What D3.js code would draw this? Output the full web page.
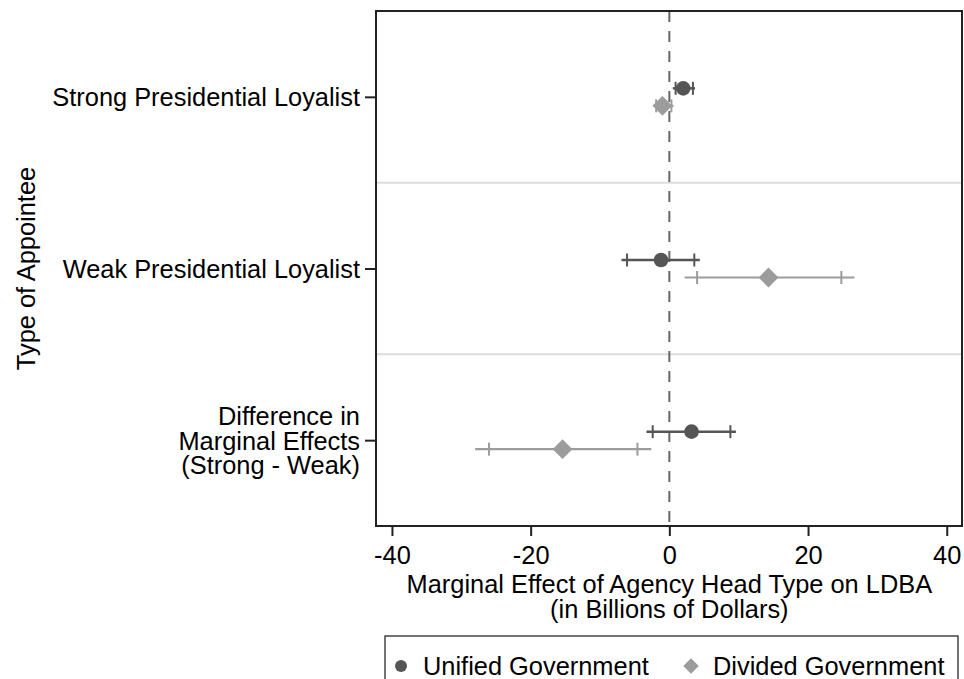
<!DOCTYPE html>
<html>
<head>
<meta charset="utf-8">
<script src="https://cdn.jsdelivr.net/npm/d3@7"></script>
<style>
  body { margin: 0; background: #fff; }
  text { font-family: "Liberation Sans", Arial, Helvetica, sans-serif; fill: #000; }
</style>
</head>
<body>
<div id="chart-area"></div>
<script>
// categories on the y axis (top to bottom)
var categories = ["Strong", "Weak", "Difference"];
var categoryLabels = [
    ["Strong Presidential Loyalist"],
    ["Weak Presidential Loyalist"],
    ["Difference in", "Marginal Effects", "(Strong - Weak)"]
];

// unified government: estimate, 95% and 90% intervals
var unifiedEst  = [2.0, -1.2, 3.2];
var unifiedLo95 = [0.5, -6.9, -3.3];
var unifiedHi95 = [3.7, 4.4, 9.6];
var unifiedLo90 = [0.9, -6.1, -2.4];
var unifiedHi90 = [3.4, 3.6, 8.8];

// divided government
var dividedEst  = [-1.0, 14.3, -15.4];
var dividedLo95 = [-2.3, 2.2, -28.0];
var dividedHi95 = [0.6, 26.7, -2.6];
var dividedLo90 = [-1.9, 4.0, -26.0];
var dividedHi90 = [0.3, 24.8, -4.6];

var xTicks = [-40, -20, 0, 20, 40];
var seriesNames = ["Unified Government", "Divided Government"];

var W = 964, H = 679;
var frame = { left: 376, top: 11, right: 962, bottom: 526 };
var fs = "25.4px";

var svg = d3.select("#chart-area")
    .append("svg")
    .attr("width", W)
    .attr("height", H);

var x = d3.scaleLinear()
    .domain([-42.3, 42.2])
    .range([frame.left, frame.right]);

var y = d3.scaleBand()
    .domain(categories)
    .range([frame.top, frame.bottom])
    .padding(0);

var series = [
    { name: seriesNames[0], est: unifiedEst, lo95: unifiedLo95, hi95: unifiedHi95, lo90: unifiedLo90, hi90: unifiedHi90,
      color: "#555555", lineW: 2.5, offset: -8.5, shape: "circle" },
    { name: seriesNames[1], est: dividedEst, lo95: dividedLo95, hi95: dividedHi95, lo90: dividedLo90, hi90: dividedHi90,
      color: "#9c9c9c", lineW: 2.2, offset: 9, shape: "diamond" }
];

function yc(c) { return y(c) + y.bandwidth() / 2; }

// row separators
svg.append("g")
    .selectAll("line")
    .data(categories.slice(1))
    .enter()
    .append("line")
    .attr("x1", frame.left).attr("x2", frame.right)
    .attr("y1", (d) => y(d)).attr("y2", (d) => y(d))
    .attr("stroke", "#dcdcdc")
    .attr("stroke-width", 2);

// zero reference line
svg.append("line")
    .attr("x1", x(0)).attr("x2", x(0))
    .attr("y1", frame.top).attr("y2", frame.bottom)
    .attr("stroke", "#666")
    .attr("stroke-width", 2)
    .attr("stroke-dasharray", "11,9");

// error bars and markers
series.forEach(function (s) {
    var g = svg.append("g");
    categories.forEach(function (c, i) {
        var cy = yc(c) + s.offset;
        g.append("line")
            .attr("x1", x(s.lo95[i])).attr("x2", x(s.hi95[i]))
            .attr("y1", cy).attr("y2", cy)
            .attr("stroke", s.color)
            .attr("stroke-width", s.lineW);
        [s.lo90[i], s.hi90[i]].forEach(function (v) {
            g.append("line")
                .attr("x1", x(v)).attr("x2", x(v))
                .attr("y1", cy - 6.5).attr("y2", cy + 6.5)
                .attr("stroke", s.color)
                .attr("stroke-width", 2);
        });
        if (s.shape === "circle") {
            g.append("circle")
                .attr("cx", x(s.est[i])).attr("cy", cy)
                .attr("r", 7.3)
                .attr("fill", s.color);
        } else {
            g.append("path")
                .attr("transform", "translate(" + x(s.est[i]) + "," + cy + ") rotate(45)")
                .attr("d", "M-7,-7H7V7H-7Z")
                .attr("fill", s.color);
        }
    });
});

// frame
svg.append("rect")
    .attr("x", frame.left).attr("y", frame.top)
    .attr("width", frame.right - frame.left)
    .attr("height", frame.bottom - frame.top)
    .attr("fill", "none")
    .attr("stroke", "#222")
    .attr("stroke-width", 2);

// x axis
var xAxis = svg.append("g")
    .attr("class", "x-axis")
    .attr("transform", "translate(0," + frame.bottom + ")")
    .call(d3.axisBottom(x).tickValues(xTicks).tickSize(10).tickPadding(5).tickFormat(d3.format("d")));
xAxis.select(".domain").remove();
xAxis.selectAll("line").attr("stroke", "#222").attr("stroke-width", 2);
xAxis.selectAll("text")
    .attr("font-size", fs)
    .attr("dy", null)
    .attr("y", 38)
    .text((d) => (d < 0 ? "-" + Math.abs(d) : d));

// y axis
var yAxis = svg.append("g")
    .attr("class", "y-axis")
    .attr("transform", "translate(" + frame.left + ",0)")
    .call(d3.axisLeft(d3.scalePoint().domain(categories).range([yc(categories[0]), yc(categories[2])])).tickSize(11));
yAxis.select(".domain").remove();
yAxis.selectAll("line").attr("stroke", "#222").attr("stroke-width", 2);
yAxis.selectAll("text").remove();
yAxis.selectAll(".tick").each(function (d) {
    var lines = categoryLabels[categories.indexOf(d)];
    var t = d3.select(this).append("text")
        .attr("text-anchor", "end")
        .attr("font-size", fs)
        .attr("fill", "#000");
    lines.forEach(function (ln, k) {
        t.append("tspan")
            .attr("x", -16)
            .attr("y", 9 + (k - (lines.length - 1) / 2) * 24.5)
            .text(ln);
    });
});

// axis titles
svg.append("text")
    .attr("x", x(0))
    .attr("y", 593)
    .attr("text-anchor", "middle")
    .attr("font-size", fs)
    .text("Marginal Effect of Agency Head Type on LDBA");

svg.append("text")
    .attr("x", x(0))
    .attr("y", 618)
    .attr("text-anchor", "middle")
    .attr("font-size", fs)
    .text("(in Billions of Dollars)");

svg.append("text")
    .attr("transform", "translate(35," + (y.range()[0] + y.range()[1]) / 2 + ") rotate(-90)")
    .attr("text-anchor", "middle")
    .attr("font-size", fs)
    .text("Type of Appointee");

// legend
var legend = svg.append("g");
legend.append("rect")
    .attr("x", 385).attr("y", 636)
    .attr("width", 573).attr("height", 60)
    .attr("fill", "#fff")
    .attr("stroke", "#444")
    .attr("stroke-width", 1.5);

var legendX = [401, 691];
series.forEach(function (s, i) {
    var cx = legendX[i], cy = 666;
    if (s.shape === "circle") {
        legend.append("circle").attr("cx", cx).attr("cy", cy).attr("r", 6).attr("fill", s.color);
    } else {
        legend.append("path")
            .attr("transform", "translate(" + cx + "," + cy + ") rotate(45)")
            .attr("d", "M-5.5,-5.5H5.5V5.5H-5.5Z")
            .attr("fill", s.color);
    }
    legend.append("text")
        .attr("x", cx + 22)
        .attr("y", cy + 9)
        .attr("font-size", fs)
        .text(s.name);
});
</script>
</body>
</html>
